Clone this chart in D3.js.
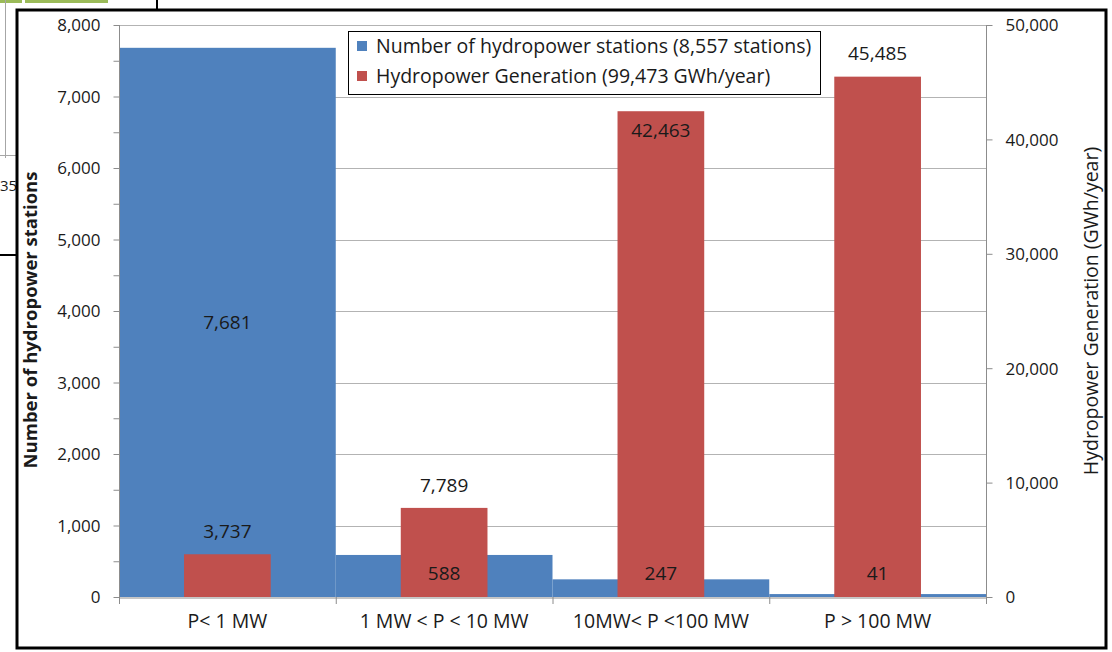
<!DOCTYPE html>
<html>
<head>
    <title>Hydropower stations by capacity</title>
    <script src="https://d3js.org/d3.v7.min.js"></script>
    <style>
        body { margin: 0; background: #fff; }
        text { font-family: "Open Sans", sans-serif; fill: #1a1a1a; }
    </style>
</head>
<body>
    <svg id="chart"></svg>

    <script>
        // Data values
        const categories = ['P< 1 MW', '1 MW < P < 10 MW', '10MW< P <100 MW', 'P > 100 MW'];
        const stations = [7681, 588, 247, 41];
        const generation = [3737, 7789, 42463, 45485];
        const seriesNames = [
            'Number of hydropower stations (8,557 stations)',
            'Hydropower Generation (99,473 GWh/year)'
        ];
        const leftTicks = [0, 1000, 2000, 3000, 4000, 5000, 6000, 7000, 8000];
        const rightTicks = [0, 10000, 20000, 30000, 40000, 50000];

        const width = 1112;
        const height = 652;
        const blue = '#4f81bd';
        const red = '#c0504d';
        const fmt = d3.format(',');
        const font = '"Open Sans", sans-serif';

        // Plot area
        const x0 = 119, x1 = 986, yTop = 25, yBot = 597;

        const svg = d3.select('#chart')
            .attr('width', width)
            .attr('height', height);

        // Leftover bits of the page the chart was cut from
        svg.append('rect').attr('x', 0).attr('y', 0).attr('width', 22).attr('height', 3).attr('fill', '#9bbb59');
        svg.append('rect').attr('x', 25).attr('y', 0).attr('width', 83).attr('height', 3).attr('fill', '#9bbb59');
        svg.append('line').attr('x1', 5.5).attr('x2', 5.5).attr('y1', 0).attr('y2', 158).attr('stroke', '#a6a6a6');
        svg.append('line').attr('x1', 0).attr('x2', 17).attr('y1', 155.5).attr('y2', 155.5).attr('stroke', '#a6a6a6');
        svg.append('text').attr('x', 0).attr('y', 191).attr('font-size', 15).text('35');
        svg.append('line').attr('x1', 0).attr('x2', 17).attr('y1', 255).attr('y2', 255).attr('stroke', '#000').attr('stroke-width', 2);
        svg.append('line').attr('x1', 157).attr('x2', 157).attr('y1', 0).attr('y2', 10).attr('stroke', '#000').attr('stroke-width', 2);

        // Chart frame
        svg.append('rect')
            .attr('x', 17).attr('y', 10)
            .attr('width', 1089).attr('height', 638)
            .attr('fill', '#fff')
            .attr('stroke', '#000')
            .attr('stroke-width', 3);

        // Scales
        const xScale = d3.scaleBand()
            .domain(categories)
            .range([x0, x1])
            .padding(0);

        const yLeft = d3.scaleLinear().domain([0, 8000]).range([yBot, yTop]);
        const yRight = d3.scaleLinear().domain([0, 50000]).range([yBot, yTop]);

        // Gridlines
        svg.append('g')
            .selectAll('line')
            .data(leftTicks.filter(d => d > 0))
            .enter()
            .append('line')
            .attr('x1', x0).attr('x2', x1)
            .attr('y1', d => Math.round(yLeft(d)) + 0.5)
            .attr('y2', d => Math.round(yLeft(d)) + 0.5)
            .attr('stroke', '#b3b3b3');

        // Blue bars (full band width)
        svg.selectAll('.bar-blue')
            .data(stations)
            .enter()
            .append('rect')
            .attr('class', 'bar-blue')
            .attr('x', (d, i) => xScale(categories[i]))
            .attr('y', d => yLeft(d))
            .attr('width', xScale.bandwidth())
            .attr('height', d => yBot - yLeft(d))
            .attr('fill', blue);

        // Red bars (secondary axis, narrower)
        const redW = xScale.bandwidth() * 0.4;
        svg.selectAll('.bar-red')
            .data(generation)
            .enter()
            .append('rect')
            .attr('class', 'bar-red')
            .attr('x', (d, i) => xScale(categories[i]) + (xScale.bandwidth() - redW) / 2)
            .attr('y', d => yRight(d))
            .attr('width', redW)
            .attr('height', d => yBot - yRight(d))
            .attr('fill', red);

        // Axes
        const axisColor = '#8c8c8c';
        const leftAxis = d3.axisLeft(yLeft)
            .tickValues(d3.range(0, 8001, 500))
            .tickSize(6)
            .tickFormat(d => leftTicks.includes(d) ? fmt(d) : '');
        const gL = svg.append('g').attr('transform', `translate(${x0 + 0.5},0)`).call(leftAxis);

        const rightAxis = d3.axisRight(yRight)
            .tickValues(rightTicks)
            .tickSize(6)
            .tickFormat(fmt);
        const gR = svg.append('g').attr('transform', `translate(${x1 + 0.5},0)`).call(rightAxis);

        const bottomAxis = d3.axisBottom(xScale).tickSize(0).tickFormat(d => d);
        const gB = svg.append('g').attr('transform', `translate(0,${yBot + 0.5})`).call(bottomAxis);

        [gL, gR, gB].forEach(g => {
            g.select('.domain').attr('stroke', axisColor);
            g.selectAll('.tick line').attr('stroke', axisColor);
            g.selectAll('text')
                .attr('font-family', font)
                .attr('font-size', 17)
                .attr('fill', '#1a1a1a');
        });
        gL.select('.domain').attr('d', `M0,${yTop}V${yBot}`);
        gR.select('.domain').attr('d', `M0,${yTop}V${yBot}`);
        gL.selectAll('text').attr('x', -19).attr('dy', '0.35em');
        gR.selectAll('text').attr('x', 19).attr('dy', '0.35em');
        gB.selectAll('.tick text').attr('y', 17).attr('dy', '0.71em').attr('font-size', 19.5);

        // Category boundary ticks
        svg.append('g')
            .selectAll('line')
            .data(d3.range(0, categories.length + 1))
            .enter()
            .append('line')
            .attr('x1', i => x0 + i * xScale.bandwidth() + 0.5)
            .attr('x2', i => x0 + i * xScale.bandwidth() + 0.5)
            .attr('y1', yBot)
            .attr('y2', yBot + 7)
            .attr('stroke', axisColor);

        // Axis titles
        svg.append('text')
            .attr('transform', `translate(37,${(yTop + yBot) / 2 + 9}) rotate(-90)`)
            .attr('text-anchor', 'middle')
            .attr('font-size', 18.5)
            .attr('font-weight', 'bold')
            .text('Number of hydropower stations');

        svg.append('text')
            .attr('transform', `translate(1098,${(yTop + yBot) / 2}) rotate(-90)`)
            .attr('text-anchor', 'middle')
            .attr('font-size', 19.5)
            .text('Hydropower Generation (GWh/year)');

        // Legend
        const legend = { x: 348, y: 31, w: 472, h: 63 };
        const lg = svg.append('g');
        lg.append('rect')
            .attr('x', legend.x + 0.5).attr('y', legend.y + 0.5)
            .attr('width', legend.w).attr('height', legend.h)
            .attr('fill', '#fff')
            .attr('stroke', '#000');
        [blue, red].forEach((c, i) => {
            const cy = legend.y + 15 + i * 30;
            lg.append('rect')
                .attr('x', legend.x + 9).attr('y', cy - 5)
                .attr('width', 10).attr('height', 10)
                .attr('fill', c);
            lg.append('text')
                .attr('x', legend.x + 28).attr('y', cy)
                .attr('dy', '0.35em')
                .attr('font-size', 19.5)
                .text(seriesNames[i]);
        });

        // Blue data labels (centred, kept above the baseline area)
        svg.selectAll('.label-blue')
            .data(stations)
            .enter()
            .append('text')
            .attr('class', 'label-blue')
            .attr('x', (d, i) => xScale(categories[i]) + xScale.bandwidth() / 2)
            .attr('y', d => Math.min((yLeft(d) + yBot) / 2, yBot - 24))
            .attr('dy', '0.35em')
            .attr('text-anchor', 'middle')
            .attr('font-size', 19)
            .text(d => fmt(d));

        // Red data labels: above the bar, inside if the legend is in the way
        svg.selectAll('.label-red')
            .data(generation)
            .enter()
            .append('text')
            .attr('class', 'label-red')
            .attr('x', (d, i) => xScale(categories[i]) + xScale.bandwidth() / 2)
            .attr('y', (d, i) => {
                const cx = xScale(categories[i]) + xScale.bandwidth() / 2;
                const above = yRight(d) - 23;
                const hitsLegend = cx > legend.x && cx < legend.x + legend.w && above - 10 < legend.y + legend.h;
                return hitsLegend ? yRight(d) + 19 : above;
            })
            .attr('dy', '0.35em')
            .attr('text-anchor', 'middle')
            .attr('font-size', 19)
            .text(d => fmt(d));
    </script>
</body>
</html>
